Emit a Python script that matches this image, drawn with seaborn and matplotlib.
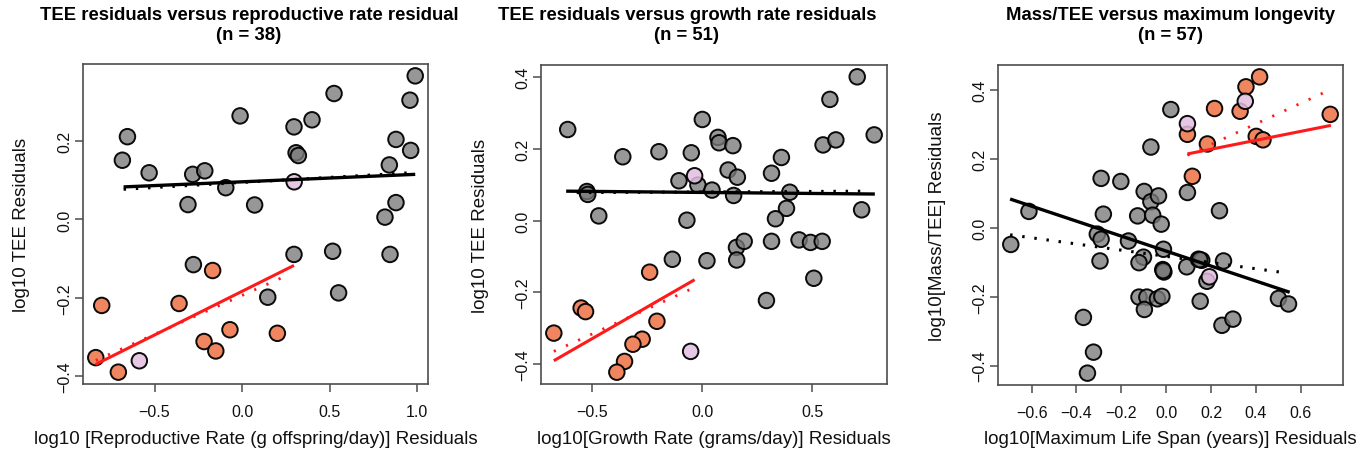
import matplotlib
matplotlib.use("Agg")
import matplotlib.pyplot as plt
from matplotlib.ticker import FuncFormatter
from matplotlib.colors import to_rgba
import numpy as np
import pandas as pd
import seaborn as sns

# ---------------- Panel 1: TEE residuals vs reproductive rate residual ----------------
p1_gray_x = [-0.655, -0.684, -0.531, -0.282, -0.213, -0.309, -0.093, -0.011, 0.072, 0.297,
             0.400, 0.526, 0.309, 0.322, 0.297, -0.278, 0.147, 0.518, 0.552, 0.990,
             0.960, 0.880, 0.964, 0.842, 0.880, 0.817, 0.846]
p1_gray_y = [0.211, 0.151, 0.119, 0.115, 0.124, 0.038, 0.081, 0.264, 0.037, 0.236,
             0.254, 0.321, 0.170, 0.163, -0.089, -0.115, -0.198, -0.081, -0.187, 0.366,
             0.304, 0.204, 0.176, 0.139, 0.043, 0.006, -0.089]
p1_orange_x = [-0.802, -0.836, -0.707, -0.360, -0.168, -0.217, -0.150, -0.069, 0.202]
p1_orange_y = [-0.219, -0.352, -0.389, -0.214, -0.130, -0.311, -0.335, -0.281, -0.290]
p1_pink_x = [-0.587, 0.298]
p1_pink_y = [-0.360, 0.096]
p1_black_solid_x = [-0.677, 0.990]
p1_black_solid_y = [0.083, 0.115]
p1_black_dot_x = [-0.677, 0.960]
p1_black_dot_y = [0.077, 0.119]
p1_red_solid_x = [-0.836, 0.297]
p1_red_solid_y = [-0.369, -0.117]
p1_red_dot_x = [-0.836, 0.260]
p1_red_dot_y = [-0.359, -0.142]

# ---------------- Panel 2: TEE residuals vs growth rate residuals ----------------
p2_gray_x = [-0.611, -0.524, -0.520, -0.470, -0.361, -0.197, -0.106, -0.050, -0.070, -0.136,
             -0.020, 0.000, 0.044, 0.021, 0.071, 0.076, 0.139, 0.117, 0.159, 0.142,
             0.155, 0.190, 0.156, 0.314, 0.359, 0.397, 0.382, 0.332, 0.314, 0.291,
             0.439, 0.491, 0.544, 0.506, 0.548, 0.606, 0.579, 0.703, 0.723, 0.780]
p2_gray_y = [0.254, 0.081, 0.073, 0.013, 0.178, 0.192, 0.111, 0.189, 0.001, -0.108,
             0.099, 0.282, 0.085, -0.112, 0.232, 0.217, 0.209, 0.141, 0.121, 0.070,
             -0.075, -0.058, -0.110, 0.132, 0.176, 0.079, 0.034, 0.005, -0.058, -0.223,
             -0.054, -0.061, -0.058, -0.161, 0.211, 0.225, 0.338, 0.401, 0.030, 0.239]
p2_orange_x = [-0.674, -0.550, -0.530, -0.239, -0.206, -0.273, -0.315, -0.353, -0.388]
p2_orange_y = [-0.314, -0.244, -0.254, -0.144, -0.281, -0.331, -0.345, -0.393, -0.423]
p2_pink_x = [-0.035, -0.053]
p2_pink_y = [0.125, -0.365]
p2_black_solid_x = [-0.618, 0.783]
p2_black_solid_y = [0.082, 0.074]
p2_black_dot_x = [-0.570, 0.750]
p2_black_dot_y = [0.078, 0.082]
p2_red_solid_x = [-0.674, -0.035]
p2_red_solid_y = [-0.391, -0.165]
p2_red_dot_x = [-0.674, -0.047]
p2_red_dot_y = [-0.365, -0.190]

# ---------------- Panel 3: Mass/TEE vs maximum longevity ----------------
p3_gray_x = [-0.693, -0.612, -0.369, -0.324, -0.351, -0.290, -0.280, -0.307, -0.290, -0.295,
             -0.202, -0.168, -0.127, -0.098, -0.068, -0.034, -0.060, -0.022, -0.068, -0.101,
             -0.121, -0.012, -0.015, -0.010, -0.121, -0.086, -0.097, -0.039, -0.019, 0.021,
             0.095, 0.092, 0.144, 0.159, 0.152, 0.182, 0.238, 0.256, 0.249, 0.298,
             0.501, 0.546, -0.013, 0.150]
p3_gray_y = [-0.048, 0.048, -0.260, -0.361, -0.422, 0.144, 0.040, -0.018, -0.033, -0.096,
             0.135, -0.038, 0.035, 0.106, 0.076, 0.093, 0.037, 0.011, 0.235, -0.085,
             -0.101, -0.062, -0.121, -0.128, -0.201, -0.201, -0.237, -0.206, -0.199, 0.344,
             0.103, -0.113, -0.091, -0.094, -0.213, -0.155, 0.050, -0.096, -0.283, -0.265,
             -0.205, -0.221, -0.124, -0.092]
p3_orange_x = [0.095, 0.117, 0.184, 0.216, 0.330, 0.356, 0.417, 0.402, 0.432, 0.732]
p3_orange_y = [0.272, 0.150, 0.244, 0.347, 0.339, 0.410, 0.439, 0.266, 0.256, 0.330]
p3_pink_x = [0.095, 0.353, 0.193]
p3_pink_y = [0.303, 0.368, -0.142]
p3_black_solid_x = [-0.696, 0.551]
p3_black_solid_y = [0.084, -0.187]
p3_black_dot_x = [-0.696, 0.527]
p3_black_dot_y = [-0.020, -0.130]
p3_red_solid_x = [0.095, 0.735]
p3_red_solid_y = [0.215, 0.298]
p3_red_dot_x = [0.095, 0.710]
p3_red_dot_y = [0.211, 0.395]

titles = ["TEE residuals versus reproductive rate residual",
          "TEE residuals versus growth rate residuals",
          "Mass/TEE versus maximum longevity"]
n_labels = ["(n = 38)", "(n = 51)", "(n = 57)"]
xlabels = ["log10 [Reproductive Rate (g offspring/day)] Residuals",
           "log10[Growth Rate (grams/day)] Residuals",
           "log10[Maximum Life Span (years)] Residuals"]
ylabels = ["log10 TEE Residuals", "log10 TEE Residuals", "log10[Mass/TEE] Residuals"]
xticks = [[-0.5, 0.0, 0.5, 1.0], [-0.5, 0.0, 0.5], [-0.6, -0.4, -0.2, 0.0, 0.2, 0.4, 0.6]]
yticks = [[-0.4, -0.2, 0.0, 0.2], [-0.4, -0.2, 0.0, 0.2, 0.4], [-0.4, -0.2, 0.0, 0.2, 0.4]]

sns.set_theme(style="white")
plt.rcParams["font.family"] = ["Liberation Sans", "DejaVu Sans"]

W, H = 1359, 460
fig = plt.figure(figsize=(W / 100, H / 100), dpi=100)

# axes boxes in pixels: left, top, right, bottom
boxes = [(83, 65, 428, 385), (541, 66, 887, 385), (998, 66, 1343, 386)]
title_cx = [249, 687, 1170]

GRAY = to_rgba("#7a7a7a", 0.78)
ORANGE = to_rgba("#f0865f", 1.0)
PINK = to_rgba("#e2bfe0", 0.85)
BOX = "#4d4d4d"

fmt = FuncFormatter(lambda v, pos: f"{v:.1f}".replace("-", "\u2212"))

panels = [
    (p1_gray_x, p1_gray_y, p1_orange_x, p1_orange_y, p1_pink_x, p1_pink_y,
     (p1_black_solid_x, p1_black_solid_y), (p1_black_dot_x, p1_black_dot_y),
     (p1_red_solid_x, p1_red_solid_y), (p1_red_dot_x, p1_red_dot_y)),
    (p2_gray_x, p2_gray_y, p2_orange_x, p2_orange_y, p2_pink_x, p2_pink_y,
     (p2_black_solid_x, p2_black_solid_y), (p2_black_dot_x, p2_black_dot_y),
     (p2_red_solid_x, p2_red_solid_y), (p2_red_dot_x, p2_red_dot_y)),
    (p3_gray_x, p3_gray_y, p3_orange_x, p3_orange_y, p3_pink_x, p3_pink_y,
     (p3_black_solid_x, p3_black_solid_y), (p3_black_dot_x, p3_black_dot_y),
     (p3_red_solid_x, p3_red_solid_y), (p3_red_dot_x, p3_red_dot_y)),
]

for i, (gx, gy, ox, oy, px, py, bs, bd, rs, rd) in enumerate(panels):
    l, t, r, b = boxes[i]
    ax = fig.add_axes([l / W, 1 - b / H, (r - l) / W, (b - t) / H])
    df = pd.DataFrame({
        "x": gx + ox + px,
        "y": gy + oy + py,
        "grp": ["gray"] * len(gx) + ["orange"] * len(ox) + ["pink"] * len(px),
    })
    sns.scatterplot(data=df, x="x", y="y", hue="grp",
                    palette={"gray": "#7a7a7a", "orange": "#f0865f", "pink": "#e2bfe0"},
                    s=125, edgecolor="black", linewidth=1.4, legend=False, ax=ax, zorder=2)
    coll = ax.collections[-1]
    fc = [{"gray": GRAY, "orange": ORANGE, "pink": PINK}[g] for g in df["grp"]]
    coll.set_alpha(None)
    coll.set_facecolors(fc)
    coll.set_edgecolors([(0, 0, 0, 0.95)] * len(fc))

    ax.plot(bd[0], bd[1], color="black", lw=2.2, ls=(0, (0.8, 3.2)), zorder=3)
    ax.plot(rd[0], rd[1], color="#ff1a1a", lw=2.0, ls=(0, (0.8, 4.0)), zorder=3)
    ax.plot(bs[0], bs[1], color="black", lw=2.4, zorder=4, solid_capstyle="butt")
    ax.plot(rs[0], rs[1], color="#ff1a1a", lw=2.2, zorder=4, solid_capstyle="butt")

    # R-style 4% padding around the points
    allx = np.array(df["x"]); ally = np.array(df["y"])
    dx = (allx.max() - allx.min()) * 0.04
    dy = (ally.max() - ally.min()) * 0.04
    ax.set_xlim(allx.min() - dx, allx.max() + dx)
    ax.set_ylim(ally.min() - dy, ally.max() + dy)

    ax.set_xticks(xticks[i])
    ax.set_yticks(yticks[i])
    ax.xaxis.set_major_formatter(fmt)
    ax.yaxis.set_major_formatter(fmt)
    ax.tick_params(axis="both", direction="out", length=6, width=1.1, color=BOX,
                   labelsize=11.5, bottom=True, left=True, labelcolor="#111111")
    ax.tick_params(axis="x", pad=8.5)
    ax.tick_params(axis="y", pad=1.5, labelrotation=90)
    for lab in ax.get_yticklabels():
        lab.set_va("center")
    ax.set_xlabel("")
    ax.set_ylabel("")
    for sp in ax.spines.values():
        sp.set_visible(True)
        sp.set_color(BOX)
        sp.set_linewidth(1.2)

    cx = (l + r) / 2 / W
    tx = title_cx[i] / W
    fig.text(tx, 1 - 15 / H, titles[i], ha="center", va="center",
             fontsize=13.3, fontweight="bold", color="black")
    fig.text(tx, 1 - 35 / H, n_labels[i], ha="center", va="center",
             fontsize=13.3, fontweight="bold", color="black")
    fig.text(cx, 1 - 440 / H, xlabels[i], ha="center", va="center",
             fontsize=13.5, color="#111111")
    fig.text((l - 61) / W, 1 - (t + b) / 2 / H, ylabels[i], ha="center", va="center",
             rotation=90, fontsize=13.5, color="#111111")

fig.savefig("out.png", dpi=100, facecolor="white")
